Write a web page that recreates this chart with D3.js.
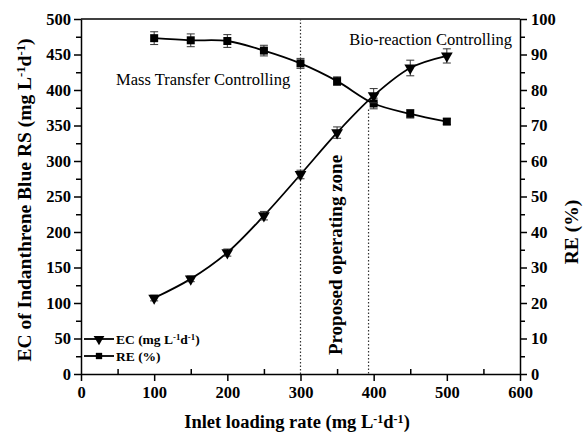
<!DOCTYPE html>
<html>
<head>
<meta charset="utf-8">
<script src="https://cdnjs.cloudflare.com/ajax/libs/d3/7.8.5/d3.min.js"></script>
<style>
  body { margin: 0; background: #fff; }
  svg text { font-family: "Liberation Serif", "Times New Roman", serif !important; }
  .axis text { font-size: 16.5px; font-weight: bold; }
  .axis path, .axis line { stroke: #000; stroke-width: 1.5; }
  .note { font-size: 16.5px; }
</style>
</head>
<body>
<svg id="chart" width="583" height="437"></svg>
<script>
var loading = [100, 150, 200, 250, 300, 350, 400, 450, 500];
var ecValues = [107, 134, 171, 223, 281, 340, 392, 431, 448];
var ecErrors = [4, 4, 5, 6, 6, 8, 10, 11, 10];
var reValues = [94.6, 94.0, 93.8, 91.1, 87.5, 82.5, 76.2, 73.3, 71.1];
var reErrors = [1.8, 1.8, 1.8, 1.5, 1.4, 1.2, 1.5, 1.2, 0.8];
var xTicks = [0, 100, 200, 300, 400, 500, 600];
var ecTicks = [0, 50, 100, 150, 200, 250, 300, 350, 400, 450, 500];
var reTicks = [0, 10, 20, 30, 40, 50, 60, 70, 80, 90, 100];
var zoneBounds = [300, 393];

var svg = d3.select("#chart"),
    margins = { top: 19, right: 63, bottom: 63, left: 81 },
    width = 583,
    height = 437;

var x = d3.scaleLinear().domain([0, 600]).range([margins.left, width - margins.right]);
var yL = d3.scaleLinear().domain([0, 500]).range([height - margins.bottom, margins.top]);
var yR = d3.scaleLinear().domain([0, 100]).range([height - margins.bottom, margins.top]);

var bottomY = height - margins.bottom;

// minor ticks
svg.append("g").attr("class", "axis")
  .attr("transform", "translate(0," + bottomY + ")")
  .call(d3.axisTop(x).tickValues(d3.range(50, 600, 100)).tickSize(5).tickFormat(""))
  .select(".domain").remove();
svg.append("g").attr("class", "axis")
  .attr("transform", "translate(" + margins.left + ",0)")
  .call(d3.axisLeft(yL).tickValues(d3.range(25, 500, 50)).tickSize(5).tickFormat(""))
  .select(".domain").remove();
svg.append("g").attr("class", "axis")
  .attr("transform", "translate(" + (width - margins.right) + ",0)")
  .call(d3.axisRight(yR).tickValues(d3.range(5, 100, 10)).tickSize(5).tickFormat(""))
  .select(".domain").remove();

// major axes
svg.append("g").attr("class", "axis")
  .attr("transform", "translate(0," + bottomY + ")")
  .call(d3.axisBottom(x).tickValues(xTicks).tickSize(7).tickSizeOuter(0).tickPadding(5));
svg.append("g").attr("class", "axis")
  .attr("transform", "translate(" + margins.left + ",0)")
  .call(d3.axisLeft(yL).tickValues(ecTicks).tickSize(7).tickSizeOuter(0).tickPadding(3));
svg.append("g").attr("class", "axis")
  .attr("transform", "translate(" + (width - margins.right) + ",0)")
  .call(d3.axisRight(yR).tickValues(reTicks).tickSize(7).tickSizeOuter(0).tickPadding(4));

// top border
svg.append("line")
  .attr("x1", margins.left).attr("x2", width - margins.right)
  .attr("y1", margins.top).attr("y2", margins.top)
  .attr("stroke", "#000").attr("stroke-width", 1.5);

// zone boundaries
svg.append("line")
  .attr("x1", x(zoneBounds[0])).attr("x2", x(zoneBounds[0]))
  .attr("y1", margins.top).attr("y2", bottomY)
  .attr("stroke", "#333").attr("stroke-width", 1.2).attr("stroke-dasharray", "1.5,2");
svg.append("line")
  .attr("x1", x(zoneBounds[1])).attr("x2", x(zoneBounds[1]))
  .attr("y1", yR(74.5)).attr("y2", bottomY)
  .attr("stroke", "#333").attr("stroke-width", 1.2).attr("stroke-dasharray", "1.5,2");

var ecData = loading.map(function (d, i) { return { x: d, y: ecValues[i], e: ecErrors[i] }; });
var reData = loading.map(function (d, i) { return { x: d, y: reValues[i], e: reErrors[i] }; });

function drawSeries(data, yScale, symbol, size) {
  var line = d3.line()
    .x(function (d) { return x(d.x); })
    .y(function (d) { return yScale(d.y); })
    .curve(d3.curveCatmullRom);
  svg.append("path")
    .attr("d", line(data))
    .attr("fill", "none").attr("stroke", "#000").attr("stroke-width", 1.8);

  var err = svg.append("g").attr("stroke", "#333").attr("stroke-width", 1);
  data.forEach(function (d) {
    var cx = x(d.x), y1 = yScale(d.y + d.e), y2 = yScale(d.y - d.e);
    err.append("line").attr("x1", cx).attr("x2", cx).attr("y1", y1).attr("y2", y2);
    err.append("line").attr("x1", cx - 4).attr("x2", cx + 4).attr("y1", y1).attr("y2", y1);
    err.append("line").attr("x1", cx - 4).attr("x2", cx + 4).attr("y1", y2).attr("y2", y2);
  });

  svg.append("g").selectAll("path")
    .data(data).join("path")
    .attr("transform", function (d) {
      return "translate(" + x(d.x) + "," + yScale(d.y) + ")" + (symbol === d3.symbolTriangle ? " rotate(180)" : "");
    })
    .attr("d", d3.symbol().type(symbol).size(size))
    .attr("fill", "#000");
}

drawSeries(reData, yR, d3.symbolSquare, 64);
drawSeries(ecData, yL, d3.symbolTriangle, 60);

// notes
svg.append("text").attr("class", "note")
  .attr("x", 116).attr("y", 85).text("Mass Transfer Controlling");
svg.append("text").attr("class", "note")
  .attr("x", 512).attr("y", 45).attr("text-anchor", "end").text("Bio-reaction Controlling");
svg.append("text")
  .attr("transform", "translate(342,255) rotate(-90)")
  .attr("text-anchor", "middle")
  .style("font-size", "19px").style("font-weight", "bold")
  .text("Proposed operating zone");

// axis titles
function unitLabel(sel, prefix) {
  sel.append("tspan").text(prefix + "(mg L");
  sel.append("tspan").attr("dy", "-0.45em").style("font-size", "0.65em").text("-1");
  sel.append("tspan").attr("dy", "0.3em").text("d");
  sel.append("tspan").attr("dy", "-0.45em").style("font-size", "0.65em").text("-1");
  sel.append("tspan").attr("dy", "0.3em").text(")");
}

var xt = svg.append("text")
  .attr("x", 297).attr("y", 428).attr("text-anchor", "middle")
  .style("font-size", "18.5px").style("font-weight", "bold");
unitLabel(xt, "Inlet loading rate ");

var ylt = svg.append("text")
  .attr("transform", "translate(31,200) rotate(-90)")
  .attr("text-anchor", "middle")
  .style("font-size", "19.5px").style("font-weight", "bold");
unitLabel(ylt, "EC of Indanthrene Blue RS ");

svg.append("text")
  .attr("transform", "translate(578,232) rotate(-90)")
  .attr("text-anchor", "middle")
  .style("font-size", "19.5px").style("font-weight", "bold")
  .text("RE (%)");

// legend
var legend = svg.append("g").attr("transform", "translate(84,339)");
var legendItems = [
  { sym: d3.symbolTriangle, rot: true, label: "EC " },
  { sym: d3.symbolSquare, rot: false, label: "RE (%)" }
];
legendItems.forEach(function (item, i) {
  var g = legend.append("g").attr("transform", "translate(0," + i * 17 + ")");
  g.append("line").attr("x1", 0).attr("x2", 30).attr("stroke", "#000").attr("stroke-width", 1.8);
  g.append("path")
    .attr("transform", "translate(15,0)" + (item.rot ? " rotate(180)" : ""))
    .attr("d", d3.symbol().type(item.sym).size(item.rot ? 50 : 40));
  var t = g.append("text").attr("x", 32).attr("y", 5)
    .style("font-size", "13.5px").style("font-weight", "bold");
  if (i === 0) unitLabel(t, "EC ");
  else t.text(item.label);
});
</script>
</body>
</html>
